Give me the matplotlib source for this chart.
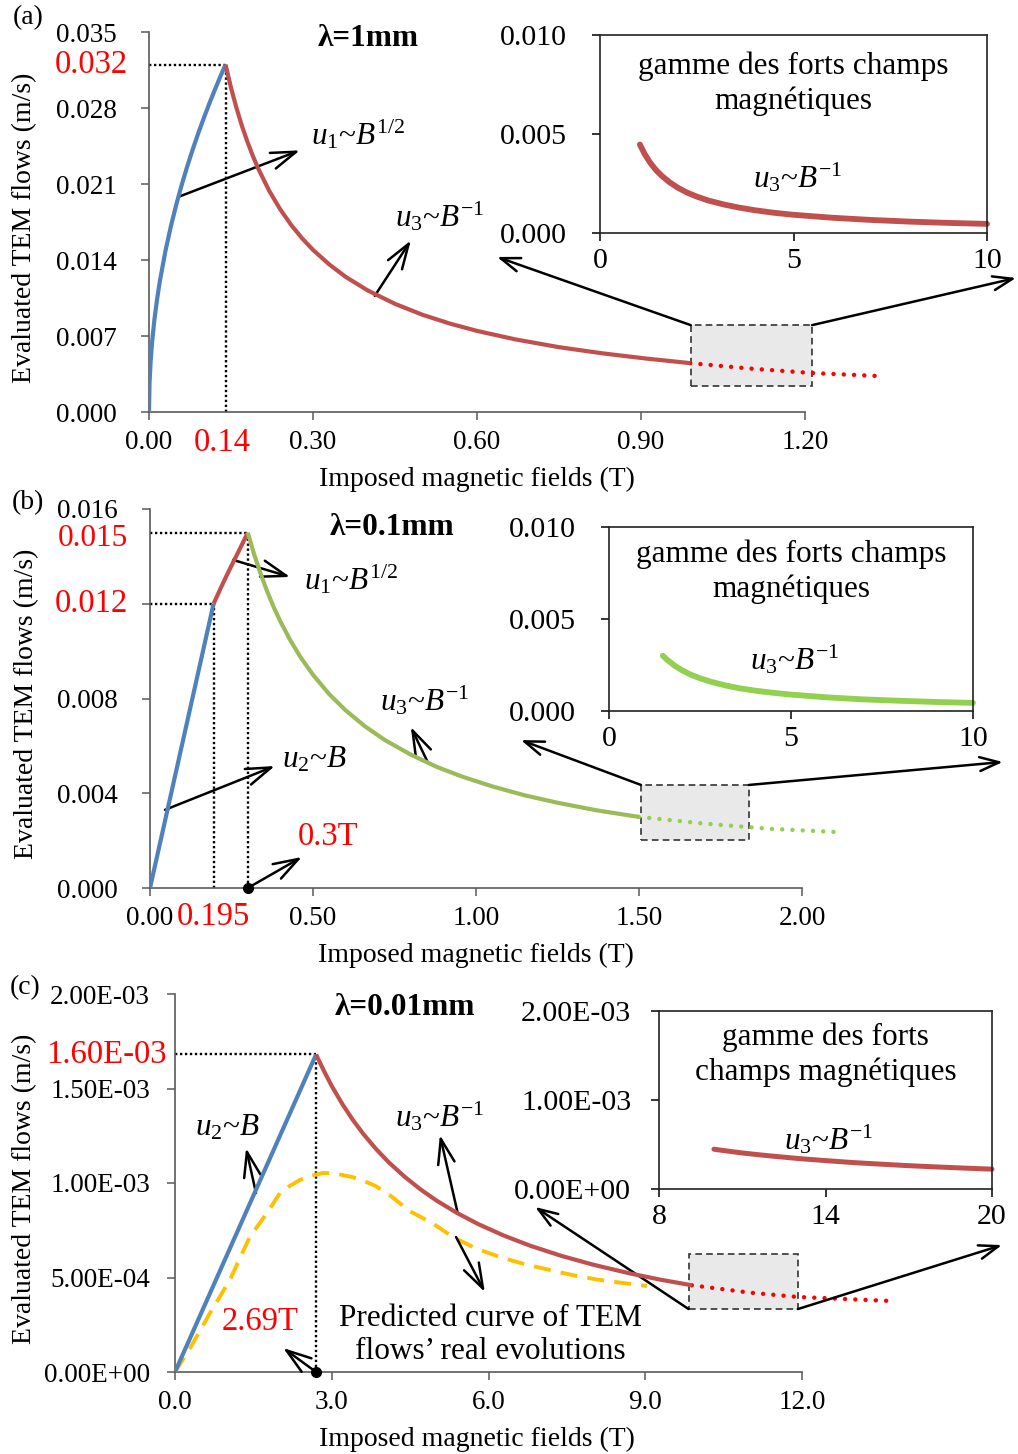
import matplotlib.pyplot as plt
from matplotlib.patches import Rectangle
from matplotlib.transforms import blended_transform_factory as blend

plt.rcParams['font.family'] = ['Liberation Serif', 'DejaVu Serif']
plt.rcParams['mathtext.fontset'] = 'custom'
plt.rcParams['mathtext.rm'] = 'Liberation Serif'
plt.rcParams['mathtext.it'] = 'Liberation Serif:italic'
plt.rcParams['mathtext.bf'] = 'Liberation Serif:bold'

# ---------------- (a) lambda = 1 mm ----------------
a_u1_B = [0, 0.001, 0.003, 0.006, 0.01, 0.015, 0.02, 0.03, 0.04, 0.05, 0.06, 0.07, 0.08,
          0.09, 0.10, 0.11, 0.12, 0.13, 0.14]
a_u1_v = [0, 0.0027, 0.00468, 0.00662, 0.00855, 0.01047, 0.01209, 0.01481, 0.0171,
          0.01912, 0.02095, 0.02263, 0.02419, 0.02566, 0.02704, 0.02837, 0.02962,
          0.03084, 0.0320]
a_u3_B = [0.14, 0.15, 0.16, 0.17, 0.18, 0.19, 0.20, 0.22, 0.24, 0.26, 0.28, 0.30, 0.33,
          0.36, 0.40, 0.45, 0.50, 0.55, 0.60, 0.67, 0.75, 0.83, 0.91, 0.99]
a_u3_v = [0.0320, 0.02987, 0.0280, 0.02635, 0.02489, 0.02358, 0.0224, 0.02036, 0.01867,
          0.01723, 0.0160, 0.01493, 0.01358, 0.01244, 0.0112, 0.00996, 0.00896, 0.00815,
          0.00747, 0.00669, 0.00597, 0.0054, 0.00492, 0.0045]
a_tail_B = [0.99, 1.10, 1.21, 1.34]
a_tail_v = [0.0045, 0.0040, 0.0036, 0.0033]
a_zoom_B = [1.03, 1.15, 1.3, 1.45, 1.6, 1.8, 2.0, 2.25, 2.5, 2.8, 3.2, 3.6, 4.0, 4.5, 5,
            6, 7, 8, 9, 10]
a_zoom_v = [0.00447, 0.0040, 0.00354, 0.00317, 0.00288, 0.00256, 0.0023, 0.00204,
            0.00184, 0.00164, 0.00144, 0.00128, 0.00115, 0.00102, 0.00092, 0.00077,
            0.00066, 0.000575, 0.00051, 0.00046]
a_peak = (0.14, 0.032)
a_xticks = [0, 0.3, 0.6, 0.9, 1.2]
a_xlabels = ['0.00', '0.30', '0.60', '0.90', '1.20']
a_yticks = [0, 0.007, 0.014, 0.021, 0.028, 0.035]
a_ylabels = ['0.000', '0.007', '0.014', '0.021', '0.028', '0.035']

# ---------------- (b) lambda = 0.1 mm ----------------
b_u2_B = [0, 0.195]
b_u2_v = [0, 0.012]
b_u1_B = [0.195, 0.21, 0.225, 0.24, 0.255, 0.27, 0.285, 0.30]
b_u1_v = [0.012, 0.01245, 0.0129, 0.01333, 0.01375, 0.01416, 0.01458, 0.0150]
b_u3_B = [0.30, 0.32, 0.34, 0.36, 0.38, 0.40, 0.43, 0.46, 0.50, 0.55, 0.60, 0.66, 0.72,
          0.80, 0.88, 0.96, 1.05, 1.15, 1.25, 1.37, 1.50]
b_u3_v = [0.0150, 0.01406, 0.01324, 0.0125, 0.01184, 0.01125, 0.01047, 0.00978, 0.0090,
          0.00818, 0.0075, 0.00682, 0.00625, 0.00563, 0.00511, 0.00469, 0.00429,
          0.00391, 0.0036, 0.00328, 0.0030]
b_tail_B = [1.5, 1.7, 1.9, 2.11]
b_tail_v = [0.0030, 0.00272, 0.0025, 0.00236]
b_zoom_B = [1.48, 1.6, 1.8, 2.0, 2.25, 2.5, 2.8, 3.2, 3.6, 4.0, 4.5, 5, 6, 7, 8, 9, 10]
b_zoom_v = [0.0030, 0.00278, 0.00247, 0.00222, 0.00197, 0.00178, 0.00159, 0.00139,
            0.00123, 0.00111, 0.00099, 0.00089, 0.00074, 0.00063, 0.000555, 0.00049,
            0.00044]
b_knee = (0.195, 0.012)
b_peak = (0.30, 0.015)
b_xticks = [0, 0.5, 1.0, 1.5, 2.0]
b_xlabels = ['0.00', '0.50', '1.00', '1.50', '2.00']
b_yticks = [0, 0.004, 0.008, 0.012, 0.016]
b_ylabels = ['0.000', '0.004', '0.008', '', '0.016']

# ---------------- (c) lambda = 0.01 mm ----------------
c_u2_B = [0, 2.70]
c_u2_v = [0, 1.68e-3]
c_u3_B = [2.70, 2.85, 3.0, 3.2, 3.4, 3.6, 3.85, 4.1, 4.4, 4.7, 5.0, 5.4, 5.8, 6.3, 6.8,
          7.4, 8.0, 8.7, 9.3, 9.89]
c_u3_v = [1.68e-3, 1.593e-3, 1.513e-3, 1.419e-3, 1.335e-3, 1.261e-3, 1.179e-3,
          1.107e-3, 1.032e-3, 9.66e-4, 9.08e-4, 8.41e-4, 7.83e-4, 7.21e-4, 6.68e-4,
          6.14e-4, 5.68e-4, 5.22e-4, 4.88e-4, 4.59e-4]
c_tail_B = [9.89, 11.0, 11.92, 13.68]
c_tail_v = [4.59e-4, 4.2e-4, 3.97e-4, 3.76e-4]
c_pred_B = [0, 0.3, 0.67, 1.05, 1.43, 1.76, 2.01, 2.2, 2.39, 2.6, 2.83, 3.02, 3.21, 3.4,
            3.6, 3.83, 4.06, 4.28, 4.5, 4.94, 5.32, 5.75, 6.22, 6.7, 7.17, 7.65, 8.13,
            8.6, 9.03]
c_pred_v = [0, 1.32e-4, 3.12e-4, 4.87e-4, 7.14e-4, 8.41e-4, 9.47e-4, 9.85e-4, 1.016e-3,
            1.038e-3, 1.053e-3, 1.052e-3, 1.042e-3, 1.031e-3, 1.013e-3, 9.85e-4, 9.47e-4,
            8.98e-4, 8.5e-4, 7.85e-4, 7.14e-4, 6.55e-4, 6.08e-4, 5.7e-4, 5.4e-4, 5.1e-4,
            4.87e-4, 4.7e-4, 4.55e-4]
c_zoom_B = [9.98, 10.5, 11, 11.5, 12, 13, 14, 15, 16, 17, 18, 19, 20]
c_zoom_v = [4.47e-4, 4.25e-4, 4.05e-4, 3.88e-4, 3.72e-4, 3.43e-4, 3.19e-4, 2.97e-4,
            2.79e-4, 2.62e-4, 2.48e-4, 2.35e-4, 2.23e-4]
c_peak = (2.70, 1.68e-3)
c_xticks = [0, 3, 6, 9, 12]
c_xlabels = ['0.0', '3.0', '6.0', '9.0', '12.0']
c_yticks = [0, 5e-4, 1e-3, 1.5e-3, 2e-3]
c_ylabels = ['0.00E+00', '5.00E-04', '1.00E-03', '1.50E-03', '2.00E-03']

BLUE = '#4f81bd'
RED = '#c0504d'
GREEN = '#9bbb59'
LGREEN = '#92d050'
YEL = '#ffc000'
TXTRED = '#ff0000'
SPINE = '#5a5a5a'

W, H = 1018, 1454


def box(l, t, r, b):
    return [l / W, 1 - b / H, (r - l) / W, (b - t) / H]


fig = plt.figure(figsize=(W / 100, H / 100), dpi=100)

FS_TICK = 19.5
FS_ITICK = 21.5
FS_LAB = 20
FS_ANN = 22.5
FS_RED = 23.5


def main_axes(rect, xlim, ylim, xt, xl, yt, yl, ypad):
    ax = fig.add_axes(rect)
    ax.set_xlim(*xlim)
    ax.set_ylim(*ylim)
    ax.spines[['top', 'right']].set_visible(False)
    for s in ['left', 'bottom']:
        ax.spines[s].set_color(SPINE)
        ax.spines[s].set_linewidth(1.2)
    ax.set_xticks(xt, xl)
    ax.set_yticks(yt, yl)
    ax.tick_params(axis='both', direction='out', length=6, width=1.1, color=SPINE,
                   labelsize=FS_TICK)
    ax.tick_params(axis='y', pad=ypad)
    ax.tick_params(axis='x', pad=7)
    return ax


def inset_axes(rect, xlim, ylim, xt, yt, yl, ypad, color, x, y, title):
    ax = fig.add_axes(rect)
    ax.set_xlim(*xlim)
    ax.set_ylim(*ylim)
    for s in ax.spines.values():
        s.set_color('#222222')
        s.set_linewidth(1.2)
    ax.set_xticks(xt, [str(t) for t in xt])
    ax.set_yticks(yt, yl)
    ax.tick_params(axis='both', direction='out', length=6, width=1.1,
                   labelsize=FS_ITICK)
    ax.tick_params(axis='y', pad=ypad)
    ax.tick_params(axis='x', pad=5)
    ax.plot(x, y, color=color, lw=4.2, solid_capstyle='round', clip_on=False)
    ax.text(0.5, 0.755, title, transform=ax.transAxes, ha='center', va='center',
            fontsize=FS_ANN, linespacing=1.25)
    ax.text(0.51, 0.28, r'$u_3$~$B^{-1}$', transform=ax.transAxes, ha='center',
            va='center', fontsize=FS_ANN)
    return ax


def arrow(ax, tail, head, head_coords=None, hl=0.9, hw=0.3, lw=1.8):
    ax.annotate('', xy=head, xycoords=head_coords or 'data', xytext=tail,
                textcoords='data', annotation_clip=False,
                arrowprops=dict(arrowstyle=f'->,head_length={hl},head_width={hw}',
                                lw=lw, color='black', shrinkA=0, shrinkB=0,
                                mutation_scale=20))


def dotted(ax, xs, ys):
    ax.plot(xs, ys, color='black', lw=1.7, ls=(0, (1, 1.1)), zorder=2, clip_on=False)


def red_tail(ax, xs, ys, color):
    ax.plot(xs, ys, color=color, lw=3.2, ls=(0, (0.01, 2.3)), dash_capstyle='round',
            clip_on=False, zorder=3)


def zoom_box(ax, x0, y0, x1, y1):
    ax.add_patch(Rectangle((x0, y0), x1 - x0, y1 - y0, facecolor='#e9e9e9',
                           edgecolor='#333333', lw=1.2, ls=(0, (4, 2.5)),
                           clip_on=False, zorder=1))


def labels(ax, xpos, ypos):
    ax.text(xpos, 0.485, 'Evaluated TEM flows (m/s)', transform=ax.transAxes,
            rotation=90, ha='center', va='center', fontsize=FS_LAB)
    ax.text(ypos, -0.178, 'Imposed magnetic fields (T)', transform=ax.transAxes,
            ha='center', va='center', fontsize=FS_LAB)


# =========================== (a) ===========================
ax = main_axes(box(149, 32, 805, 412), (0, 1.2), (0, 0.035), a_xticks, a_xlabels,
               a_yticks, a_ylabels, 17)
zoom_box(ax, 0.991, 0.0024, 1.213, 0.0080)
dotted(ax, [0, a_peak[0]], [a_peak[1], a_peak[1]])
dotted(ax, [a_peak[0], a_peak[0]], [0, a_peak[1]])
ax.plot(a_u1_B, a_u1_v, color=BLUE, lw=3, zorder=4, solid_capstyle='butt')
ax.plot(a_u3_B, a_u3_v, color=RED, lw=3, zorder=4, solid_capstyle='butt')
red_tail(ax, a_tail_B, a_tail_v, TXTRED)
ax.text(-0.032, a_peak[1], '0.032', transform=blend(ax.transAxes, ax.transData),
        ha='right', va='center', color=TXTRED, fontsize=FS_RED)
ax.text(0.134, -0.082, '0.14', transform=blend(ax.transData, ax.transAxes),
        ha='center', va='center', color=TXTRED, fontsize=FS_RED)
ax.text(0.40, 0.0344, 'λ=1mm', ha='center', va='center', fontsize=FS_ANN,
        fontweight='bold')
arrow(ax, (0.053, 0.0198), (0.276, 0.0241))
ax.text(0.296, 0.0255, r'$u_1$~$B^{1/2}$', ha='left', va='center', fontsize=FS_ANN)
arrow(ax, (0.413, 0.0107), (0.479, 0.0158))
ax.text(0.532, 0.0180, r'$u_3$~$B^{-1}$', ha='center', va='center', fontsize=FS_ANN)
labels(ax, -0.19, 0.5)
fig.text(28 / W, 1 - 18 / H, '(a)', ha='center', va='center', fontsize=FS_LAB)

ia = inset_axes(box(600, 35, 987, 233), (0, 10), (0, 0.010), [0, 5, 10],
                [0, 0.005, 0.010], ['0.000', '0.005', '0.010'], 18, RED,
                a_zoom_B, a_zoom_v, 'gamme des forts champs\nmagnétiques')
arrow(ax, (0.991, 0.0080), (-0.266, -0.121), ia.transAxes, hl=0.7, hw=0.25)
arrow(ax, (1.213, 0.0080), (1.075, -0.227), ia.transAxes, hl=0.7, hw=0.25)

# =========================== (b) ===========================
bx = main_axes(box(150, 509, 802, 888), (0, 2.0), (0, 0.016), b_xticks, b_xlabels,
               b_yticks, b_ylabels, 17)
zoom_box(bx, 1.506, 0.00203, 1.837, 0.00435)
dotted(bx, [0, b_peak[0]], [b_peak[1], b_peak[1]])
dotted(bx, [0, b_knee[0]], [b_knee[1], b_knee[1]])
dotted(bx, [b_knee[0], b_knee[0]], [0, b_knee[1]])
dotted(bx, [b_peak[0], b_peak[0]], [0, b_peak[1]])
bx.plot(b_u2_B, b_u2_v, color=BLUE, lw=3, zorder=4, solid_capstyle='butt')
bx.plot(b_u1_B, b_u1_v, color=RED, lw=3, zorder=4, solid_capstyle='butt')
bx.plot(b_u3_B, b_u3_v, color=GREEN, lw=3, zorder=4, solid_capstyle='butt')
red_tail(bx, b_tail_B, b_tail_v, LGREEN)
bx.text(-0.034, 0.01474, '0.015', transform=blend(bx.transAxes, bx.transData),
        ha='right', va='center', color=TXTRED, fontsize=22.5)
bx.text(-0.034, b_knee[1], '0.012', transform=blend(bx.transAxes, bx.transData),
        ha='right', va='center', color=TXTRED, fontsize=FS_RED)
bx.text(0.193, -0.077, '0.195', transform=blend(bx.transData, bx.transAxes),
        ha='center', va='center', color=TXTRED, fontsize=FS_RED)
bx.text(0.742, 0.0152, 'λ=0.1mm', ha='center', va='center', fontsize=FS_ANN,
        fontweight='bold')
arrow(bx, (0.255, 0.01385), (0.43, 0.01313))
bx.text(0.472, 0.0130, r'$u_1$~$B^{1/2}$', ha='left', va='center', fontsize=FS_ANN)
arrow(bx, (0.046, 0.0033), (0.383, 0.00515))
bx.text(0.405, 0.0054, r'$u_2$~$B$', ha='left', va='center', fontsize=FS_ANN)
arrow(bx, (0.853, 0.00528), (0.80, 0.0068))
bx.text(0.844, 0.0079, r'$u_3$~$B^{-1}$', ha='center', va='center', fontsize=FS_ANN)
bx.plot([b_peak[0]], [0], 'o', color='black', ms=7, clip_on=False, zorder=5)
arrow(bx, (b_peak[0], 0), (0.466, 0.00131))
bx.text(0.546, 0.00215, '0.3T', ha='center', va='center', color=TXTRED,
        fontsize=FS_RED)
labels(bx, -0.19, 0.5)
fig.text(28 / W, 1 - 503 / H, '(b)', ha='center', va='center', fontsize=FS_LAB)

ib = inset_axes(box(609, 527, 973, 711), (0, 10), (0, 0.010), [0, 5, 10],
                [0, 0.005, 0.010], ['0.000', '0.005', '0.010'], 18, LGREEN,
                b_zoom_B, b_zoom_v, 'gamme des forts champs\nmagnétiques')
arrow(bx, (1.506, 0.00435), (-0.242, -0.158), ib.transAxes, hl=0.7, hw=0.25)
arrow(bx, (1.837, 0.00435), (1.082, -0.277), ib.transAxes, hl=0.7, hw=0.25)

# =========================== (c) ===========================
cx = main_axes(box(175, 994, 802, 1372), (0, 12), (0, 2e-3), c_xticks, c_xlabels,
               c_yticks, c_ylabels, 12)
zoom_box(cx, 9.83, 3.33e-4, 11.92, 6.24e-4)
dotted(cx, [0, c_peak[0]], [c_peak[1], c_peak[1]])
dotted(cx, [c_peak[0], c_peak[0]], [0, c_peak[1]])
cx.plot(c_pred_B, c_pred_v, color=YEL, lw=2.8, ls=(0, (4.4, 2.6)), zorder=3)
cx.plot(c_u2_B, c_u2_v, color=BLUE, lw=3, zorder=4, solid_capstyle='butt')
cx.plot(c_u3_B, c_u3_v, color=RED, lw=3, zorder=4, solid_capstyle='butt')
red_tail(cx, c_tail_B, c_tail_v, TXTRED)
cx.text(-0.014, c_peak[1], '1.60E-03', transform=blend(cx.transAxes, cx.transData),
        ha='right', va='center', color=TXTRED, fontsize=FS_RED)
cx.text(4.40, 1.926e-3, 'λ=0.01mm', ha='center', va='center', fontsize=FS_ANN,
        fontweight='bold')
arrow(cx, (1.55, 9.47e-4), (1.36, 1.185e-3))
cx.text(1.01, 1.29e-3, r'$u_2$~$B$', ha='center', va='center', fontsize=FS_ANN)
arrow(cx, (5.41, 8.41e-4), (5.07, 1.254e-3))
cx.text(5.07, 1.35e-3, r'$u_3$~$B^{-1}$', ha='center', va='center', fontsize=FS_ANN)
arrow(cx, (5.38, 7.14e-4), (5.93, 4.23e-4))
cx.text(6.03, 1.96e-4, 'Predicted curve of TEM\nflows\u2019 real evolutions',
        ha='center', va='center', fontsize=FS_ANN, linespacing=1.2)
cx.plot([c_peak[0]], [0], 'o', color='black', ms=7, clip_on=False, zorder=5)
arrow(cx, (c_peak[0], 0), (2.07, 1.27e-4))
cx.text(1.63, 2.65e-4, '2.69T', ha='center', va='center', color=TXTRED,
        fontsize=FS_RED)
labels(cx, -0.24, 0.482)
fig.text(25 / W, 1 - 988 / H, '(c)', ha='center', va='center', fontsize=FS_LAB)

ic = inset_axes(box(659, 1011, 992, 1189), (8, 20), (0, 2e-3), [8, 14, 20],
                [0, 1e-3, 2e-3], ['0.00E+00', '1.00E-03', '2.00E-03'], 14, RED,
                c_zoom_B, c_zoom_v, 'gamme des forts\nchamps magnétiques')
ic.lines[0].set_linewidth(3.6)
arrow(cx, (9.83, 3.33e-4), (-0.372, -0.101), ic.transAxes, hl=0.7, hw=0.25)
arrow(cx, (11.92, 3.33e-4), (1.03, -0.315), ic.transAxes, hl=0.7, hw=0.25)

fig.savefig('out.png', dpi=100)
